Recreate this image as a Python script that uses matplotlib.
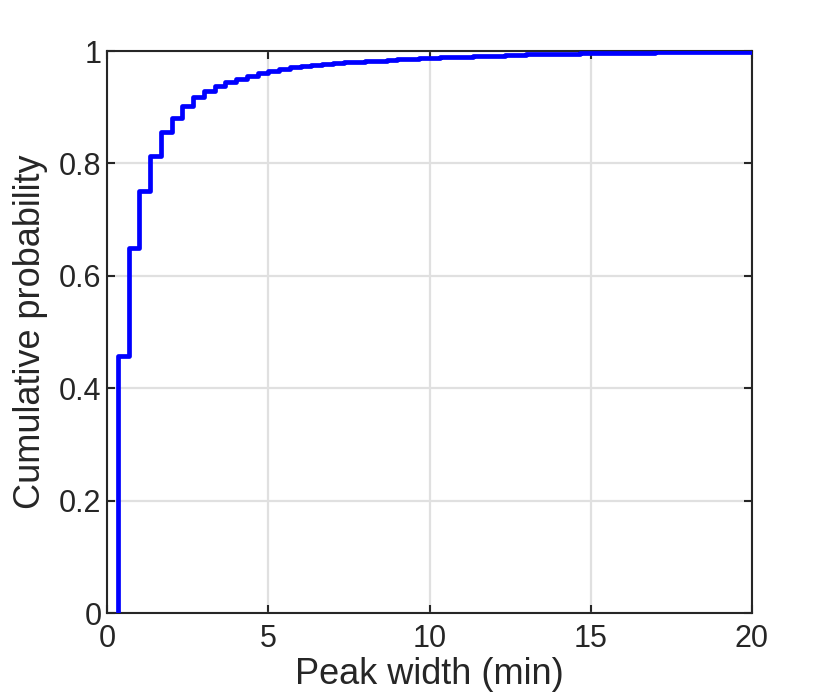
import numpy as np
import matplotlib
matplotlib.use("Agg")
import matplotlib.pyplot as plt

plt.rcParams['font.family'] = ['Liberation Sans', 'DejaVu Sans']

# peak widths: steps every 20 s (1/3 min)
step_min = [k / 3 for k in range(1, 61)]
cum_prob = [
    0.457, 0.649, 0.751, 0.813, 0.855, 0.881, 0.902, 0.918, 0.929, 0.938,
    0.945, 0.951, 0.956, 0.961, 0.965, 0.968, 0.971, 0.973, 0.975, 0.977,
    0.978, 0.980, 0.981, 0.982, 0.983, 0.984, 0.985, 0.986, 0.987, 0.988,
    0.989, 0.990, 0.990, 0.991, 0.992, 0.992, 0.993, 0.993, 0.994, 0.994,
    0.995, 0.995, 0.995, 0.996, 0.996, 0.996, 0.997, 0.997, 0.997, 0.997,
    0.998, 0.998, 0.998, 0.998, 0.998, 0.999, 0.999, 0.999, 0.999, 1.000,
]

x_ticks = [0, 5, 10, 15, 20]
y_ticks = [0, 0.2, 0.4, 0.6, 0.8, 1]
y_ticklabels = ['0', '0.2', '0.4', '0.6', '0.8', '1']

fig = plt.figure(figsize=(8.3, 6.94), dpi=100)
ax = fig.add_axes([0.129, 0.1167, 0.777, 0.8098])

# ECDF stairs starting from 0 at the first step
xs = [step_min[0]] + step_min
ys = [0.0] + cum_prob
ax.step(xs, ys, where='post', color='#0000ff', linewidth=3.4, zorder=3)

ax.set_xlim(0, 20)
ax.set_ylim(0, 1)
ax.set_xticks(x_ticks)
ax.set_yticks(y_ticks)
ax.set_yticklabels(y_ticklabels)

ax.grid(True, color='#e0e0e0', linewidth=1.6)
ax.set_axisbelow(True)

for sp in ax.spines.values():
    sp.set_color('#262626')
    sp.set_linewidth(1.5)

ax.tick_params(direction='in', length=6, width=1.5, colors='#262626',
               labelsize=22, pad=8, top=True, right=True)
ax.tick_params(axis='y', pad=4)

ax.set_xlabel('Peak width (min)', fontsize=26, color='#262626', labelpad=2)
ax.set_ylabel('Cumulative probability', fontsize=26, color='#262626', labelpad=8)

fig.savefig('out.png', dpi=100)
